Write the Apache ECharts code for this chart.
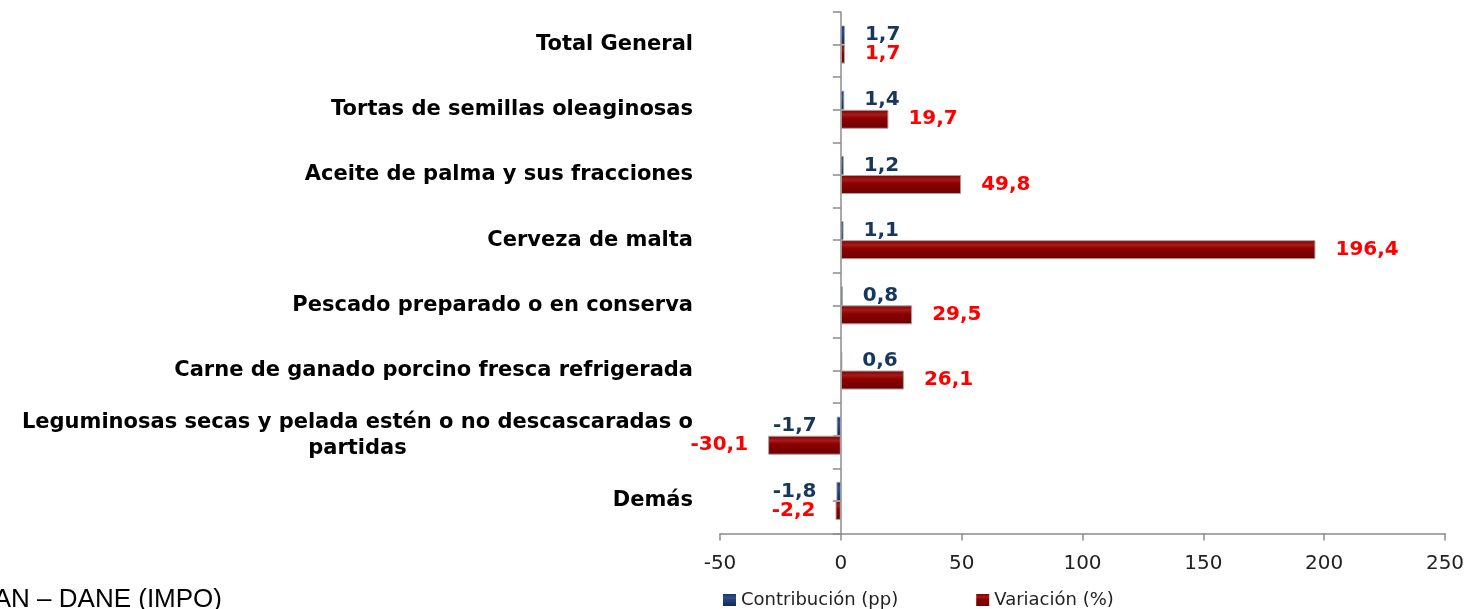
<!DOCTYPE html>
<html>
<head>
<meta charset="utf-8">
<script src="https://cdn.jsdelivr.net/npm/echarts@6/dist/echarts.min.js"></script>
<style>
  html, body { margin: 0; padding: 0; background: #fff; }
  #main { width: 1474px; height: 609px; }
</style>
</head>
<body>
<div id="main"></div>
<script>
var categories = [
  'Total General',
  'Tortas de semillas oleaginosas',
  'Aceite de palma y sus fracciones',
  'Cerveza de malta',
  'Pescado preparado o en conserva',
  'Carne de ganado porcino fresca refrigerada',
  'Leguminosas secas y pelada estén o no descascaradas o\npartidas',
  'Demás'
];
var contribucion = [1.7, 1.4, 1.2, 1.1, 0.8, 0.6, -1.7, -1.8];
var variacion = [1.7, 19.7, 49.8, 196.4, 29.5, 26.1, -30.1, -2.2];
var xTicks = [-50, 0, 50, 100, 150, 200, 250];

function fmt(v) {
  return v.toFixed(1).replace('.', ',');
}

// etiqueta a la derecha si es positivo, a la izquierda si es negativo
function withLabels(values) {
  return values.map(function (v) {
    return { value: v, label: { position: v < 0 ? 'left' : 'right' } };
  });
}

var chart = echarts.init(document.getElementById('main'));

var option = {
  animation: false,
  grid: { left: 720, right: 29, top: 12, bottom: 75.5 },
  legend: {
    left: 718,
    top: 586,
    itemWidth: 13,
    itemHeight: 12,
    itemGap: 78,
    icon: 'rect',
    itemStyle: { borderWidth: 0 },
    textStyle: { fontFamily: 'DejaVu Sans', fontSize: 18, color: '#222' },
    data: ['Contribución (pp)', 'Variación (%)']
  },
  xAxis: [{
    type: 'value',
    min: xTicks[0],
    max: xTicks[xTicks.length - 1],
    interval: 50,
    splitLine: { show: false },
    axisLine: { show: true, lineStyle: { color: '#8c8c8c', width: 1.5 } },
    axisTick: { show: true, length: 7, lineStyle: { color: '#8c8c8c', width: 1.5 } },
    axisLabel: { fontFamily: 'DejaVu Sans', fontSize: 20, color: '#222', margin: 20 }
  }],
  yAxis: [{
    type: 'category',
    data: categories,
    inverse: true,
    position: 'left',
    axisLine: { onZero: true, lineStyle: { color: '#8c8c8c', width: 1.5 } },
    axisTick: { show: true, length: 8, lineStyle: { color: '#8c8c8c', width: 1.5 } },
    axisLabel: {
      margin: 27,
      formatter: function (v) {
        return v.split('\n').map(function (l) { return '{c|' + l + '}'; }).join('\n');
      },
      rich: {
        c: {
          align: 'center',
          fontFamily: 'DejaVu Sans',
          fontWeight: 'bold',
          fontSize: 21,
          color: '#000',
          lineHeight: 26
        }
      }
    }
  }, {
    // solo marcas en el centro de cada categoría
    type: 'category',
    data: categories,
    inverse: true,
    position: 'left',
    axisLine: { show: false, onZero: true, onZeroAxisIndex: 0 },
    axisTick: { show: true, alignWithLabel: true, length: 8, lineStyle: { color: '#8c8c8c', width: 1.5 } },
    axisLabel: { show: false }
  }],
  series: [{
    name: 'Contribución (pp)',
    type: 'bar',
    barWidth: 19,
    barGap: '0%',
    data: withLabels(contribucion),
    itemStyle: {
      color: new echarts.graphic.LinearGradient(0, 0, 0, 1, [
        { offset: 0, color: '#1a3466' },
        { offset: 0.3, color: '#2f4d8a' },
        { offset: 1, color: '#14284f' }
      ]),
      borderColor: '#a6a6a6',
      borderWidth: 0.8
    },
    label: {
      show: true,
      distance: 20,
      formatter: function (p) { return fmt(p.value); },
      fontFamily: 'DejaVu Sans',
      fontWeight: 'bold',
      fontSize: 20,
      color: '#17375e'
    }
  }, {
    name: 'Variación (%)',
    type: 'bar',
    barWidth: 19,
    data: withLabels(variacion),
    itemStyle: {
      color: new echarts.graphic.LinearGradient(0, 0, 0, 1, [
        { offset: 0, color: '#7a0000' },
        { offset: 0.25, color: '#a81a1a' },
        { offset: 0.45, color: '#8b0000' },
        { offset: 1, color: '#6e0000' }
      ]),
      borderColor: '#a6a6a6',
      borderWidth: 1
    },
    label: {
      show: true,
      distance: 20,
      formatter: function (p) { return fmt(p.value); },
      fontFamily: 'DejaVu Sans',
      fontWeight: 'bold',
      fontSize: 20,
      color: '#ff0000'
    }
  }],
  graphic: [{
    type: 'text',
    right: 1474 - 222,
    top: 587,
    style: {
      text: 'Fuente: DIAN – DANE (IMPO)',
      fontFamily: 'Liberation Sans',
      fontSize: 26,
      fill: '#000'
    }
  }]
};

chart.setOption(option);
</script>
</body>
</html>
